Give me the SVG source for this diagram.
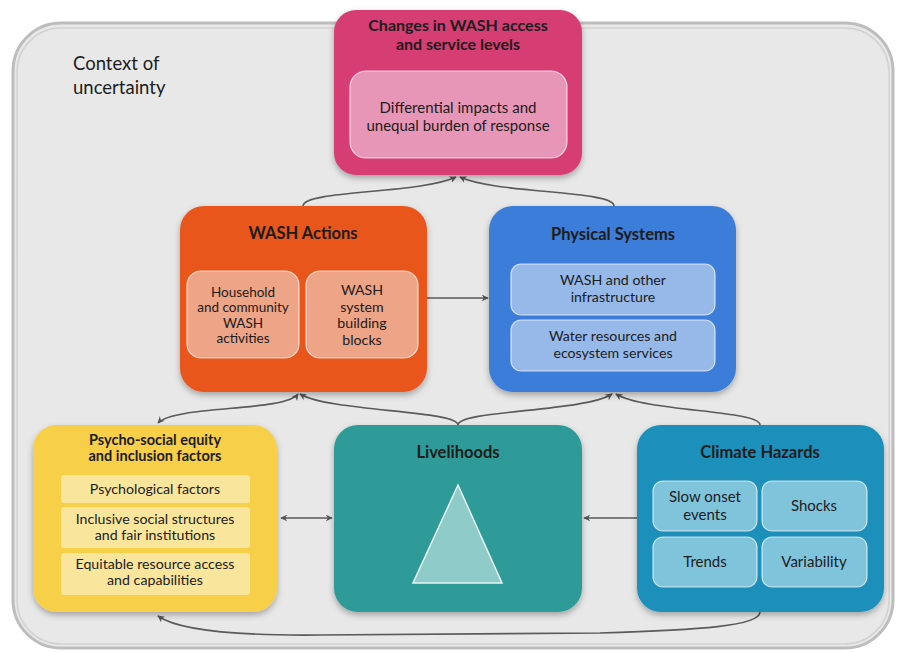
<svg xmlns="http://www.w3.org/2000/svg" width="898" height="653" viewBox="0 0 898 653">
<defs>
<filter id="sh" x="-10%" y="-10%" width="120%" height="125%">
<feDropShadow dx="0" dy="3" stdDeviation="3" flood-color="#000" flood-opacity="0.3"/>
</filter>
<marker id="ah" viewBox="0 0 10 10" refX="9" refY="5" markerWidth="7" markerHeight="7" orient="auto-start-reverse" markerUnits="userSpaceOnUse">
<path d="M0,0 L10,5 L0,10 L3,5 Z" fill="#555"/>
</marker>
</defs>
<style>
text{font-family:Lato,"Open Sans","Liberation Sans",sans-serif;fill:#1c1c1c;text-anchor:middle}
.t{font-weight:bold;font-size:16.5px}
.s{font-size:15px}
.p{font-size:14.2px}
.c{stroke:#5a5a5a;stroke-width:1.6;fill:none}
.inner{stroke:#fff;stroke-opacity:0.7;stroke-width:1.2}
</style>
<rect width="898" height="653" fill="#ffffff"/>
<g id="context">
<rect x="13" y="23" width="880" height="625" rx="48" fill="#e8e8e8" stroke="#bdbdbd" stroke-width="3"/>
<rect x="17" y="28" width="872" height="616" rx="44" fill="none" stroke="#d2d2d2" stroke-width="1.5"/>
<text x="73" y="70" style="font-size:18.5px;text-anchor:start">Context of</text>
<text x="73" y="94" style="font-size:18.5px;text-anchor:start">uncertainty</text>
</g>
<g id="connectors">
<path class="c" d="M303 206 C303 190 420 194 456 177" marker-end="url(#ah)"/>
<path class="c" d="M614 206 C614 190 496 194 460 177" marker-end="url(#ah)"/>
<path class="c" d="M427 298 L488 298" marker-end="url(#ah)"/>
<path class="c" d="M458 425 C458 410 330 412 300 394" marker-end="url(#ah)"/>
<path class="c" d="M458 425 C458 410 585 412 612 394" marker-end="url(#ah)"/>
<path class="c" d="M158 423 C175 405 285 412 298 394" marker-start="url(#ah)" marker-end="url(#ah)"/>
<path class="c" d="M760 425 C760 410 645 412 616 394" marker-end="url(#ah)"/>
<path class="c" d="M281 518 L332 518" marker-start="url(#ah)" marker-end="url(#ah)"/>
<path class="c" d="M637 518 L584 518" marker-end="url(#ah)"/>
<path class="c" d="M760 612 C760 626 700 630 600 633 L320 635 C220 636 175 628 158 616" marker-end="url(#ah)"/>
</g>
<g id="changes">
<rect x="334" y="10" width="248" height="165" rx="22" fill="#d63c73" filter="url(#sh)"/>
<text class="t" x="458" y="31" style="font-size:16px">Changes in WASH access</text>
<text class="t" x="458" y="50" style="font-size:16px">and service levels</text>
<rect class="inner" x="350" y="71" width="217" height="87" rx="16" fill="#e796b7"/>
<text class="s" x="458" y="113">Differential impacts and</text>
<text class="s" x="458" y="131">unequal burden of response</text>
</g>
<g id="wash-actions">
<rect x="180" y="206" width="247" height="186" rx="24" fill="#e8571f" filter="url(#sh)"/>
<text class="t" x="303" y="239">WASH Actions</text>
<rect class="inner" x="187" y="271" width="112" height="87" rx="14" fill="#eea487"/>
<text x="243" y="297" style="font-size:13.5px">Household</text>
<text x="243" y="312" style="font-size:13.5px">and community</text>
<text x="243" y="328" style="font-size:13.5px">WASH</text>
<text x="243" y="343" style="font-size:13.5px">activities</text>
<rect class="inner" x="306" y="271" width="112" height="87" rx="14" fill="#eea487"/>
<text class="p" x="362" y="295">WASH</text>
<text class="p" x="362" y="312">system</text>
<text class="p" x="362" y="328">building</text>
<text class="p" x="362" y="345">blocks</text>
</g>
<g id="physical-systems">
<rect x="489" y="206" width="247" height="186" rx="24" fill="#3b7dd8" filter="url(#sh)"/>
<text class="t" x="613" y="240">Physical Systems</text>
<rect class="inner" x="511" y="264" width="204" height="51" rx="10" fill="#96b9ea"/>
<text class="p" x="613" y="285">WASH and other</text>
<text class="p" x="613" y="302">infrastructure</text>
<rect class="inner" x="511" y="320" width="204" height="51" rx="10" fill="#96b9ea"/>
<text class="p" x="613" y="341">Water resources and</text>
<text class="p" x="613" y="358">ecosystem services</text>
</g>
<g id="psycho-social">
<rect x="33" y="425" width="244" height="187" rx="24" fill="#f7cf49" filter="url(#sh)"/>
<text class="t" x="155" y="445" style="font-size:14.5px">Psycho-social equity</text>
<text class="t" x="155" y="461" style="font-size:14.5px">and inclusion factors</text>
<rect x="61" y="475" width="189" height="28" rx="3" fill="#f9e59c"/>
<text class="p" x="155" y="494">Psychological factors</text>
<rect x="61" y="507" width="189" height="41" rx="3" fill="#f9e59c"/>
<text class="p" x="155" y="524">Inclusive social structures</text>
<text class="p" x="155" y="540">and fair institutions</text>
<rect x="61" y="553" width="189" height="42" rx="3" fill="#f9e59c"/>
<text class="p" x="155" y="569">Equitable resource access</text>
<text class="p" x="155" y="585">and capabilities</text>
</g>
<g id="livelihoods">
<rect x="334" y="425" width="248" height="187" rx="24" fill="#2e9b98" filter="url(#sh)"/>
<text class="t" x="458" y="458">Livelihoods</text>
<polygon points="458,485 413,583 502,583" fill="#8fcbc8" stroke="#e6f6f5" stroke-width="1.5"/>
</g>
<g id="climate-hazards">
<rect x="637" y="425" width="247" height="187" rx="24" fill="#1a8fba" filter="url(#sh)"/>
<text class="t" x="760" y="458">Climate Hazards</text>
<rect class="inner" x="653" y="481" width="104" height="50" rx="10" fill="#80c4dc"/>
<text class="s" x="705" y="502">Slow onset</text>
<text class="s" x="705" y="520">events</text>
<rect class="inner" x="762" y="481" width="105" height="50" rx="10" fill="#80c4dc"/>
<text class="s" x="814" y="511">Shocks</text>
<rect class="inner" x="653" y="537" width="104" height="50" rx="10" fill="#80c4dc"/>
<text class="s" x="705" y="567">Trends</text>
<rect class="inner" x="762" y="537" width="105" height="50" rx="10" fill="#80c4dc"/>
<text class="s" x="814" y="567">Variability</text>
</g>
</svg>
